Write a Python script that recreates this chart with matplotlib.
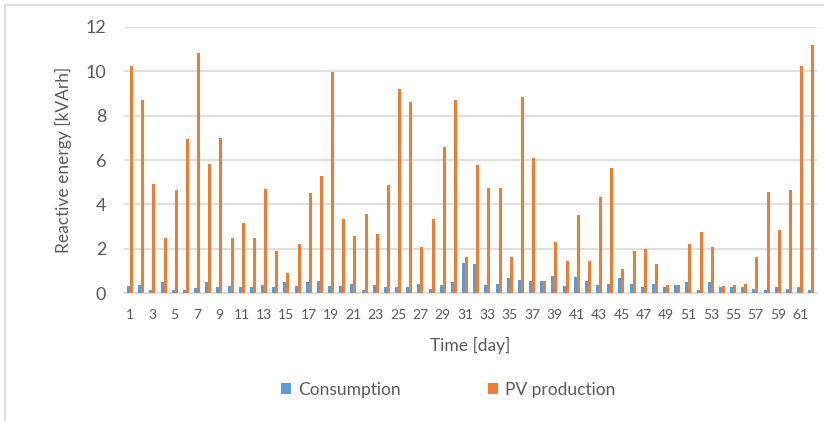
import matplotlib.pyplot as plt
import numpy as np

days = np.arange(1, 63)
consumption = [0.33, 0.37, 0.15, 0.50, 0.15, 0.15, 0.25, 0.50, 0.27, 0.33,
               0.27, 0.27, 0.37, 0.27, 0.50, 0.33, 0.50, 0.55, 0.33, 0.33,
               0.43, 0.15, 0.37, 0.27, 0.27, 0.27, 0.43, 0.21, 0.37, 0.50,
               1.38, 1.32, 0.37, 0.43, 0.67, 0.61, 0.55, 0.55, 0.79, 0.33,
               0.73, 0.55, 0.37, 0.43, 0.67, 0.43, 0.27, 0.43, 0.27, 0.37,
               0.50, 0.15, 0.50, 0.27, 0.27, 0.27, 0.21, 0.15, 0.27, 0.21,
               0.27, 0.15]
pv_production = [10.22, 8.70, 4.92, 2.50, 4.63, 6.93, 10.82, 5.82, 6.99, 2.50,
                 3.16, 2.50, 4.69, 1.92, 0.91, 2.20, 4.51, 5.28, 9.94, 3.33,
                 2.56, 3.57, 2.68, 4.87, 9.18, 8.59, 2.08, 3.33, 6.58, 8.70,
                 1.62, 5.76, 4.74, 4.74, 1.62, 8.82, 6.10, 0.55, 2.32, 1.44,
                 3.51, 1.44, 4.33, 5.64, 1.09, 1.92, 1.98, 1.32, 0.37, 0.37,
                 2.20, 2.74, 2.08, 0.33, 0.37, 0.43, 1.62, 4.56, 2.85, 4.63,
                 10.22, 11.17]

blue = '#5B9BD5'
orange = '#ED7D31'
grid_c = '#D9D9D9'
text_c = '#595959'
plt.rcParams['font.family'] = ['Lato', 'DejaVu Sans']

fig = plt.figure(figsize=(8.24, 4.21), dpi=100)
ax = fig.add_axes([0.151, 0.3033, 0.8404, 0.6333])

w = 0.27
ax.bar(days - w / 2, consumption, width=w, color=blue, label='Consumption', zorder=3)
ax.bar(days + w / 2, pv_production, width=w, color=orange, label='PV production', zorder=3)

ax.set_xlim(0.5, 62.5)
ax.set_ylim(0, 12)
ax.set_yticks(range(0, 13, 2))
ax.set_xticks(days[::2])
ax.yaxis.grid(True, color=grid_c, linewidth=1.2, zorder=0)
for s in ['top', 'right', 'left']:
    ax.spines[s].set_visible(False)
ax.spines['bottom'].set_color(grid_c)
ax.spines['bottom'].set_linewidth(1.2)
ax.tick_params(axis='y', length=0, pad=13, labelsize=13, labelcolor=text_c)
ax.tick_params(axis='x', length=0, pad=11, labelsize=10, labelcolor=text_c)

ax.set_xlabel('Time [day]', fontsize=12.5, color=text_c, labelpad=12)
ax.set_ylabel('Reactive energy [kVArh]', fontsize=12.5, color=text_c, labelpad=10)

fig.legend(loc='center', bbox_to_anchor=(448 / 824, 1 - 390 / 421), ncol=2,
           frameon=False, fontsize=12.5, labelcolor=text_c,
           handlelength=0.6, handleheight=0.6, handletextpad=0.4, columnspacing=5.0)

# chart frame (left and top edges visible)
fig.add_artist(plt.Line2D([4.5 / 824, 4.5 / 824], [0, 1 - 5 / 421], color=grid_c, lw=1.2))
fig.add_artist(plt.Line2D([4.5 / 824, 1], [1 - 5 / 421, 1 - 5 / 421], color=grid_c, lw=1.2))

fig.savefig('out.png', dpi=100)
